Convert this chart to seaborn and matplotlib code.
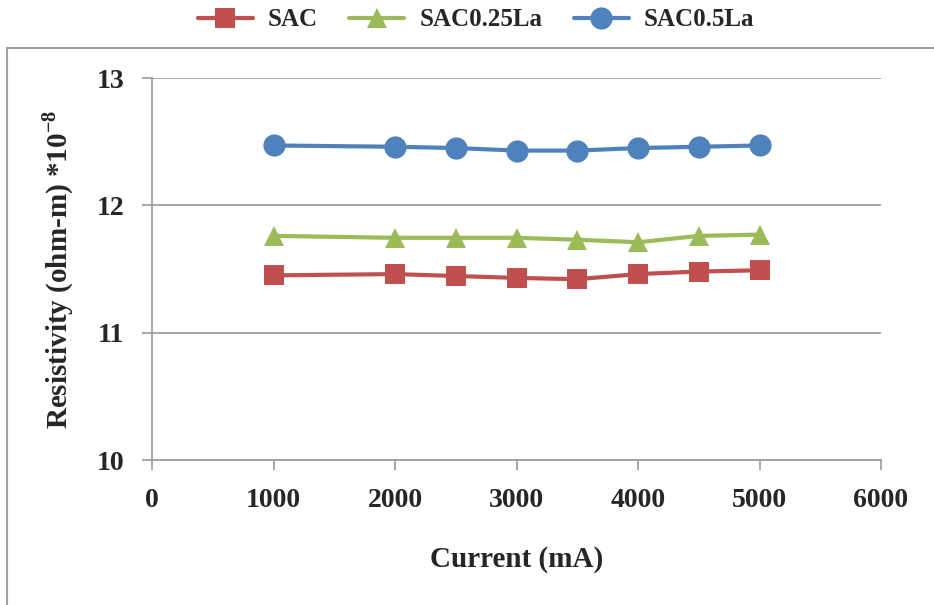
import pandas as pd
import matplotlib
matplotlib.use("Agg")
import matplotlib.pyplot as plt
import seaborn as sns
from matplotlib.lines import Line2D

# 电流 (mA)
current = [1000, 2000, 2500, 3000, 3500, 4000, 4500, 5000]
# 各合金电阻率 (ohm-m * 1e-8)
sac = [11.45, 11.46, 11.445, 11.43, 11.42, 11.46, 11.48, 11.49]
sac025la = [11.76, 11.745, 11.745, 11.745, 11.73, 11.71, 11.76, 11.77]
sac05la = [12.47, 12.46, 12.45, 12.43, 12.43, 12.45, 12.46, 12.47]

series_names = ["SAC", "SAC0.25La", "SAC0.5La"]
series_vals = [sac, sac025la, sac05la]
colors = ["#C0504D", "#9BBB59", "#4F81BD"]
markers = ["s", "^", "o"]
msizes = [14.5, 15, 16]

sns.set_style("white")
plt.rcParams["font.family"] = ["Liberation Serif", "DejaVu Serif"]
plt.rcParams["mathtext.fontset"] = "custom"
plt.rcParams["mathtext.rm"] = "Liberation Serif"
plt.rcParams["mathtext.bf"] = "Liberation Serif:bold"

fig = plt.figure(figsize=(9.34, 6.05), dpi=100)
ax = fig.add_axes([152 / 934, 1 - 460 / 605, (881 - 152) / 934, (460 - 78) / 605])

for name, vals, c, m, ms in zip(series_names, series_vals, colors, markers, msizes):
    sns.lineplot(x=current, y=vals, color=c, marker=m, markersize=ms,
                 markeredgewidth=0, linewidth=3, ax=ax, label=name, legend=False)

ax.set_xlim(0, 6000)
ax.set_ylim(10, 13)
ax.set_xticks(range(0, 6001, 1000))
ax.set_yticks([10, 11, 12, 13])
ax.yaxis.grid(True, color="#A0A0A0", linewidth=1.3)
ax.xaxis.grid(False)
for s in ["top", "right"]:
    ax.spines[s].set_visible(False)
for s in ["left", "bottom"]:
    ax.spines[s].set_color("#A0A0A0")
    ax.spines[s].set_linewidth(1.3)
ax.tick_params(axis="both", which="major", bottom=True, left=True, length=7,
               width=1.3, color="#A0A0A0", labelsize=20, pad=13, direction="out")
for lbl in ax.get_xticklabels() + ax.get_yticklabels():
    lbl.set_fontweight("bold")

ax.set_xlabel("Current (mA)", fontsize=21, fontweight="bold")
ax.set_ylabel("Resistivity (ohm-m) *10$^{\\mathbf{-8}}$", fontsize=21, fontweight="bold")
ax.xaxis.set_label_coords(0.5, (460 - 546) / 382)
ax.yaxis.set_label_coords((76 - 152) / 729, 0.5)

# 图例放在上方
handles = [Line2D([0], [0], color=c, marker=m, markersize=ms, linewidth=3,
                  markeredgewidth=0) for c, m, ms in zip(colors, markers, msizes)]
fig.legend(handles, series_names, loc="center", bbox_to_anchor=(476 / 934, 1 - 20 / 605),
           ncol=3, frameon=False, handlelength=2.2, handletextpad=0.6,
           columnspacing=1.25, prop={"weight": "bold", "size": 18})

# 外框线
fig.add_artist(Line2D([7 / 934, 1.0], [1 - 48 / 605, 1 - 48 / 605],
                      color="#A0A0A0", linewidth=1.5, transform=fig.transFigure))
fig.add_artist(Line2D([7 / 934, 7 / 934], [0.0, 1 - 48 / 605],
                      color="#A0A0A0", linewidth=1.5, transform=fig.transFigure))

fig.savefig("out.png", dpi=100)
